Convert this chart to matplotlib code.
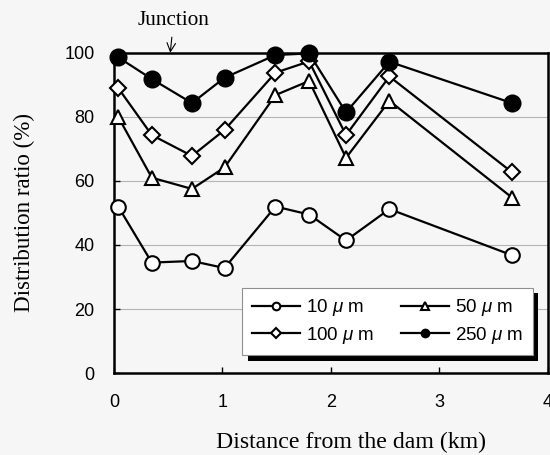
import matplotlib
matplotlib.use("Agg")
import matplotlib.pyplot as plt
import matplotlib.patheffects as pe

plt.rcParams["mathtext.fontset"] = "custom"
plt.rcParams["mathtext.rm"] = "Liberation Sans"
plt.rcParams["mathtext.it"] = "Liberation Sans:italic"

# distance from the dam (km) for each sampling site
distance = [0.04, 0.35, 0.72, 1.02, 1.49, 1.80, 2.14, 2.54, 3.67]

# distribution ratio (%) by particle size
ratio_10 = [52.0, 34.5, 35.0, 32.8, 52.0, 49.5, 41.4, 51.2, 36.8]
ratio_50 = [80.0, 61.0, 57.5, 64.2, 86.8, 91.2, 67.2, 85.0, 54.8]
ratio_100 = [89.0, 74.3, 67.8, 75.9, 93.8, 97.3, 74.3, 92.6, 62.7]
ratio_250 = [98.6, 91.8, 84.3, 92.2, 99.3, 99.8, 81.4, 97.2, 84.3]

labels = ["10 $\\mu$ m", "50 $\\mu$ m", "100 $\\mu$ m", "250 $\\mu$ m"]
xticks = [0, 1, 2, 3, 4]
yticks = [0, 20, 40, 60, 80, 100]
junction_km = 0.52

bg = "#f6f6f6"
fig = plt.figure(figsize=(5.5, 4.55), dpi=100, facecolor=bg)
ax = fig.add_axes([0.207, 0.180, 0.789, 0.704], facecolor=bg)

line_kw = dict(color="black", lw=1.6, markersize=10.5, markeredgewidth=1.5,
               markeredgecolor="black", clip_on=False, zorder=3)
h10, = ax.plot(distance, ratio_10, marker="o", markerfacecolor="white", label=labels[0], **line_kw)
h50, = ax.plot(distance, ratio_50, marker="^", markerfacecolor="white", label=labels[1], **line_kw)
h100, = ax.plot(distance, ratio_100, marker="D", markerfacecolor="white", label=labels[2],
                **{**line_kw, "markersize": 8.5})
h250, = ax.plot(distance, ratio_250, marker="o", markerfacecolor="black", label=labels[3],
                **{**line_kw, "markersize": 11.5})

ax.set_xlim(xticks[0], xticks[-1])
ax.set_ylim(yticks[0], yticks[-1])
ax.set_xticks(xticks)
ax.set_yticks(yticks)
ax.yaxis.grid(True, color="#b4b4b4", lw=0.8)
ax.set_axisbelow(True)
for s in ax.spines.values():
    s.set_linewidth(1.8)
ax.tick_params(direction="in", length=4, width=1, labelsize=13, pad=14,
               labelfontfamily="Liberation Sans")
ax.tick_params(axis="x", pad=15)

ax.set_xlabel("Distance from the dam (km)", fontsize=17.2, family="Liberation Serif", labelpad=15)
ax.xaxis.label.set_x(0.546)
ax.set_ylabel("Distribution ratio (%)", fontsize=16.6, family="Liberation Serif", labelpad=21)

ax.annotate("Junction", xy=(junction_km, 100), xytext=(junction_km + 0.03, 110),
            ha="center", va="center", fontsize=15.3, family="Liberation Serif",
            annotation_clip=False,
            arrowprops=dict(arrowstyle="->", lw=0.8, color="black",
                            shrinkA=3, shrinkB=0))

# column-wise fill: rows read 10|50 and 100|250
leg = ax.legend([h10, h100, h50, h250], [labels[0], labels[2], labels[1], labels[3]],
                ncol=2, loc="lower right", bbox_to_anchor=(0.965, 0.056), borderaxespad=0,
                fancybox=False, frameon=True, framealpha=1, edgecolor="#909090",
                facecolor="white", prop={"family": "Liberation Sans", "size": 13.5},
                handlelength=2.6, columnspacing=1.4, borderpad=0.5,
                labelspacing=0.35, handletextpad=0.3)
for h in leg.legend_handles:
    h.set_markersize(5.5)
leg.get_frame().set_linewidth(0.8)
leg.get_frame().set_path_effects([
    pe.SimplePatchShadow(offset=(4, -4), shadow_rgbFace="black", alpha=1),
    pe.Normal()])

fig.savefig("out.png", dpi=100, facecolor=bg)
